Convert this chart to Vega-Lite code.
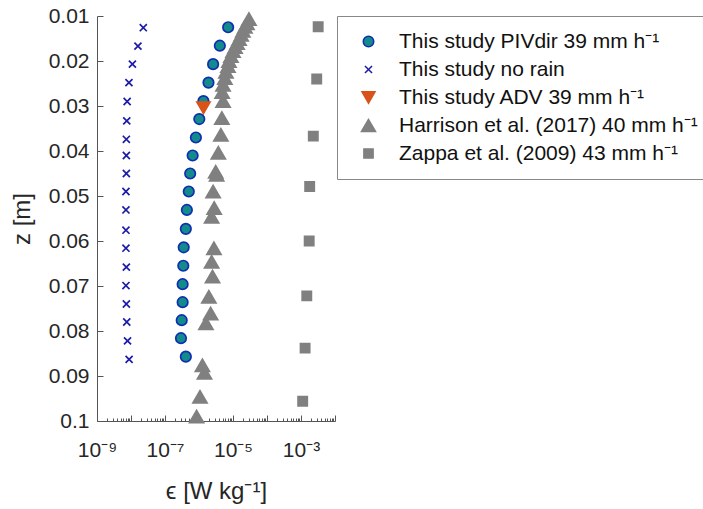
{
  "$schema": "https://vega.github.io/schema/vega-lite/v6.json",
  "autosize": {"type": "none"},
  "padding": {"left": 97, "top": 16, "right": 368, "bottom": 88},
  "width": 238,
  "height": 405,
  "background": "white",
  "config": {
    "view": {"stroke": null},
    "font": "Liberation Sans",
    "axis": {"labelFont": "Liberation Sans", "titleFont": "Liberation Sans", "labelColor": "#262626", "titleColor": "#262626", "labelFontSize": 21, "titleFontSize": 24, "titleFontWeight": "normal", "domainColor": "#555", "tickColor": "#555", "grid": false}
  },
  "data": {"values": [
    {"series": "This study no rain", "z": 0.0126, "eps": 2.3e-8},
    {"series": "This study no rain", "z": 0.0167, "eps": 1.6e-8},
    {"series": "This study no rain", "z": 0.0207, "eps": 1.1e-8},
    {"series": "This study no rain", "z": 0.0248, "eps": 8.7e-9},
    {"series": "This study no rain", "z": 0.0290, "eps": 7.7e-9},
    {"series": "This study no rain", "z": 0.0333, "eps": 7.5e-9},
    {"series": "This study no rain", "z": 0.0374, "eps": 7.3e-9},
    {"series": "This study no rain", "z": 0.0410, "eps": 7.3e-9},
    {"series": "This study no rain", "z": 0.0450, "eps": 7.3e-9},
    {"series": "This study no rain", "z": 0.0490, "eps": 7.1e-9},
    {"series": "This study no rain", "z": 0.0531, "eps": 7.1e-9},
    {"series": "This study no rain", "z": 0.0576, "eps": 7.1e-9},
    {"series": "This study no rain", "z": 0.0616, "eps": 7.1e-9},
    {"series": "This study no rain", "z": 0.0658, "eps": 7.3e-9},
    {"series": "This study no rain", "z": 0.0699, "eps": 7.1e-9},
    {"series": "This study no rain", "z": 0.0740, "eps": 7.3e-9},
    {"series": "This study no rain", "z": 0.0780, "eps": 7.5e-9},
    {"series": "This study no rain", "z": 0.0822, "eps": 7.9e-9},
    {"series": "This study no rain", "z": 0.0863, "eps": 8.8e-9},
    {"series": "This study PIVdir 39 mm h⁻¹", "z": 0.0125, "eps": 7.2e-6},
    {"series": "This study PIVdir 39 mm h⁻¹", "z": 0.0166, "eps": 4.1e-6},
    {"series": "This study PIVdir 39 mm h⁻¹", "z": 0.0207, "eps": 2.6e-6},
    {"series": "This study PIVdir 39 mm h⁻¹", "z": 0.0248, "eps": 1.9e-6},
    {"series": "This study PIVdir 39 mm h⁻¹", "z": 0.0289, "eps": 1.35e-6},
    {"series": "This study PIVdir 39 mm h⁻¹", "z": 0.0329, "eps": 1.02e-6},
    {"series": "This study PIVdir 39 mm h⁻¹", "z": 0.0370, "eps": 8.1e-7},
    {"series": "This study PIVdir 39 mm h⁻¹", "z": 0.0410, "eps": 6.5e-7},
    {"series": "This study PIVdir 39 mm h⁻¹", "z": 0.0450, "eps": 5.5e-7},
    {"series": "This study PIVdir 39 mm h⁻¹", "z": 0.0490, "eps": 5.0e-7},
    {"series": "This study PIVdir 39 mm h⁻¹", "z": 0.0531, "eps": 4.4e-7},
    {"series": "This study PIVdir 39 mm h⁻¹", "z": 0.0573, "eps": 4.1e-7},
    {"series": "This study PIVdir 39 mm h⁻¹", "z": 0.0614, "eps": 3.55e-7},
    {"series": "This study PIVdir 39 mm h⁻¹", "z": 0.0655, "eps": 3.45e-7},
    {"series": "This study PIVdir 39 mm h⁻¹", "z": 0.0696, "eps": 3.3e-7},
    {"series": "This study PIVdir 39 mm h⁻¹", "z": 0.0736, "eps": 3.3e-7},
    {"series": "This study PIVdir 39 mm h⁻¹", "z": 0.0776, "eps": 3.1e-7},
    {"series": "This study PIVdir 39 mm h⁻¹", "z": 0.0816, "eps": 2.95e-7},
    {"series": "This study PIVdir 39 mm h⁻¹", "z": 0.0857, "eps": 4.1e-7},
    {"series": "This study ADV 39 mm h⁻¹", "z": 0.0304, "eps": 1.35e-6},
    {"series": "Harrison et al. (2017) 40 mm h⁻¹", "z": 0.0107, "eps": 2.95e-5},
    {"series": "Harrison et al. (2017) 40 mm h⁻¹", "z": 0.0116, "eps": 2.57e-5},
    {"series": "Harrison et al. (2017) 40 mm h⁻¹", "z": 0.0124, "eps": 2.24e-5},
    {"series": "Harrison et al. (2017) 40 mm h⁻¹", "z": 0.0133, "eps": 1.95e-5},
    {"series": "Harrison et al. (2017) 40 mm h⁻¹", "z": 0.0142, "eps": 1.74e-5},
    {"series": "Harrison et al. (2017) 40 mm h⁻¹", "z": 0.0151, "eps": 1.51e-5},
    {"series": "Harrison et al. (2017) 40 mm h⁻¹", "z": 0.0160, "eps": 1.32e-5},
    {"series": "Harrison et al. (2017) 40 mm h⁻¹", "z": 0.0169, "eps": 1.15e-5},
    {"series": "Harrison et al. (2017) 40 mm h⁻¹", "z": 0.0178, "eps": 1.0e-5},
    {"series": "Harrison et al. (2017) 40 mm h⁻¹", "z": 0.0189, "eps": 8.7e-6},
    {"series": "Harrison et al. (2017) 40 mm h⁻¹", "z": 0.0200, "eps": 7.6e-6},
    {"series": "Harrison et al. (2017) 40 mm h⁻¹", "z": 0.0211, "eps": 7.1e-6},
    {"series": "Harrison et al. (2017) 40 mm h⁻¹", "z": 0.0224, "eps": 6.2e-6},
    {"series": "Harrison et al. (2017) 40 mm h⁻¹", "z": 0.0238, "eps": 5.75e-6},
    {"series": "Harrison et al. (2017) 40 mm h⁻¹", "z": 0.0253, "eps": 5.1e-6},
    {"series": "Harrison et al. (2017) 40 mm h⁻¹", "z": 0.0269, "eps": 4.8e-6},
    {"series": "Harrison et al. (2017) 40 mm h⁻¹", "z": 0.0289, "eps": 5.1e-6},
    {"series": "Harrison et al. (2017) 40 mm h⁻¹", "z": 0.0327, "eps": 4.7e-6},
    {"series": "Harrison et al. (2017) 40 mm h⁻¹", "z": 0.0364, "eps": 4.4e-6},
    {"series": "Harrison et al. (2017) 40 mm h⁻¹", "z": 0.0404, "eps": 3.7e-6},
    {"series": "Harrison et al. (2017) 40 mm h⁻¹", "z": 0.0446, "eps": 3.1e-6},
    {"series": "Harrison et al. (2017) 40 mm h⁻¹", "z": 0.0453, "eps": 3.3e-6},
    {"series": "Harrison et al. (2017) 40 mm h⁻¹", "z": 0.0490, "eps": 2.6e-6},
    {"series": "Harrison et al. (2017) 40 mm h⁻¹", "z": 0.0527, "eps": 2.8e-6},
    {"series": "Harrison et al. (2017) 40 mm h⁻¹", "z": 0.0546, "eps": 2.35e-6},
    {"series": "Harrison et al. (2017) 40 mm h⁻¹", "z": 0.0616, "eps": 2.75e-6},
    {"series": "Harrison et al. (2017) 40 mm h⁻¹", "z": 0.0646, "eps": 2.35e-6},
    {"series": "Harrison et al. (2017) 40 mm h⁻¹", "z": 0.0679, "eps": 2.5e-6},
    {"series": "Harrison et al. (2017) 40 mm h⁻¹", "z": 0.0724, "eps": 1.95e-6},
    {"series": "Harrison et al. (2017) 40 mm h⁻¹", "z": 0.0761, "eps": 2.2e-6},
    {"series": "Harrison et al. (2017) 40 mm h⁻¹", "z": 0.0783, "eps": 1.6e-6},
    {"series": "Harrison et al. (2017) 40 mm h⁻¹", "z": 0.0876, "eps": 1.26e-6},
    {"series": "Harrison et al. (2017) 40 mm h⁻¹", "z": 0.0893, "eps": 1.45e-6},
    {"series": "Harrison et al. (2017) 40 mm h⁻¹", "z": 0.0946, "eps": 1.07e-6},
    {"series": "Harrison et al. (2017) 40 mm h⁻¹", "z": 0.0990, "eps": 8.5e-7},
    {"series": "Zappa et al. (2009) 43 mm h⁻¹", "z": 0.0124, "eps": 3.2e-3},
    {"series": "Zappa et al. (2009) 43 mm h⁻¹", "z": 0.0240, "eps": 2.9e-3},
    {"series": "Zappa et al. (2009) 43 mm h⁻¹", "z": 0.0367, "eps": 2.3e-3},
    {"series": "Zappa et al. (2009) 43 mm h⁻¹", "z": 0.0479, "eps": 1.8e-3},
    {"series": "Zappa et al. (2009) 43 mm h⁻¹", "z": 0.0600, "eps": 1.74e-3},
    {"series": "Zappa et al. (2009) 43 mm h⁻¹", "z": 0.0722, "eps": 1.48e-3},
    {"series": "Zappa et al. (2009) 43 mm h⁻¹", "z": 0.0838, "eps": 1.32e-3},
    {"series": "Zappa et al. (2009) 43 mm h⁻¹", "z": 0.0956, "eps": 1.12e-3}
  ]},
  "mark": {"type": "point", "filled": false, "opacity": 1, "strokeWidth": 1.7},
  "encoding": {
    "x": {
      "field": "eps", "type": "quantitative",
      "scale": {"type": "log", "domain": [1e-9, 1e-2], "nice": false},
      "axis": {
        "title": "ϵ [W kg⁻¹]",
        "values": [1e-9,2e-9,3e-9,4e-9,5e-9,6e-9,7e-9,8e-9,9e-9,1e-8,2e-8,3e-8,4e-8,5e-8,6e-8,7e-8,8e-8,9e-8,1e-7,2e-7,3e-7,4e-7,5e-7,6e-7,7e-7,8e-7,9e-7,1e-6,2e-6,3e-6,4e-6,5e-6,6e-6,7e-6,8e-6,9e-6,1e-5,2e-5,3e-5,4e-5,5e-5,6e-5,7e-5,8e-5,9e-5,1e-4,2e-4,3e-4,4e-4,5e-4,6e-4,7e-4,8e-4,9e-4,1e-3,2e-3,3e-3,4e-3,5e-3,6e-3,7e-3,8e-3,9e-3,1e-2],
        "labelExpr": "abs(datum.value/1e-9-1)<1e-6 ? '10⁻⁹' : abs(datum.value/1e-7-1)<1e-6 ? '10⁻⁷' : abs(datum.value/1e-5-1)<1e-6 ? '10⁻⁵' : abs(datum.value/1e-3-1)<1e-6 ? '10⁻³' : ''",
        "labelOverlap": false,
        "labelFlush": false,
        "tickSize": {"condition": {"test": "abs(log(datum.value)/LN10 - round(log(datum.value)/LN10)) < 0.001", "value": -6}, "value": -3},
        "labelPadding": 24,
        "titlePadding": 16
      }
    },
    "y": {
      "field": "z", "type": "quantitative",
      "scale": {"domain": [0.01, 0.1], "reverse": true, "nice": false, "zero": false},
      "axis": {
        "title": "z [m]",
        "values": [0.01,0.02,0.03,0.04,0.05,0.06,0.07,0.08,0.09,0.1],
        "format": ".2~f",
        "tickSize": -6,
        "labelPadding": 14,
        "labelFlush": false,
        "labelOverlap": false,
        "titlePadding": 14
      }
    },
    "shape": {
      "field": "series", "type": "nominal",
      "scale": {
        "domain": ["This study PIVdir 39 mm h⁻¹", "This study no rain", "This study ADV 39 mm h⁻¹", "Harrison et al. (2017) 40 mm h⁻¹", "Zappa et al. (2009) 43 mm h⁻¹"],
        "range": ["circle", "M-1,-1L1,1M-1,1L1,-1", "triangle-down", "triangle-up", "square"]
      },
      "legend": {"title": null}
    },
    "fill": {
      "field": "series", "type": "nominal",
      "scale": {
        "domain": ["This study PIVdir 39 mm h⁻¹", "This study no rain", "This study ADV 39 mm h⁻¹", "Harrison et al. (2017) 40 mm h⁻¹", "Zappa et al. (2009) 43 mm h⁻¹"],
        "range": ["#138a8c", "transparent", "#d95319", "#808080", "#808080"]
      },
      "legend": {"title": null}
    },
    "stroke": {
      "field": "series", "type": "nominal",
      "scale": {
        "domain": ["This study PIVdir 39 mm h⁻¹", "This study no rain", "This study ADV 39 mm h⁻¹", "Harrison et al. (2017) 40 mm h⁻¹", "Zappa et al. (2009) 43 mm h⁻¹"],
        "range": ["#0f2fb0", "#1c1ca8", "#d95319", "#808080", "#808080"]
      },
      "legend": {"title": null}
    },
    "size": {
      "field": "series", "type": "nominal",
      "scale": {
        "type": "ordinal",
        "domain": ["This study PIVdir 39 mm h⁻¹", "This study no rain", "This study ADV 39 mm h⁻¹", "Harrison et al. (2017) 40 mm h⁻¹", "Zappa et al. (2009) 43 mm h⁻¹"],
        "range": [110, 50, 170, 200, 85]
      },
      "legend": {
        "title": null,
        "orient": "right",
        "offset": 2,
        "padding": 15,
        "strokeColor": "#888",
        "fillColor": "white",
        "labelFontSize": 21,
        "labelFont": "Liberation Sans",
        "labelColor": "#111",
        "labelLimit": 500,
        "rowPadding": 6,
        "symbolOffset": 6,
        "labelOffset": 20
      }
    }
  }
}
